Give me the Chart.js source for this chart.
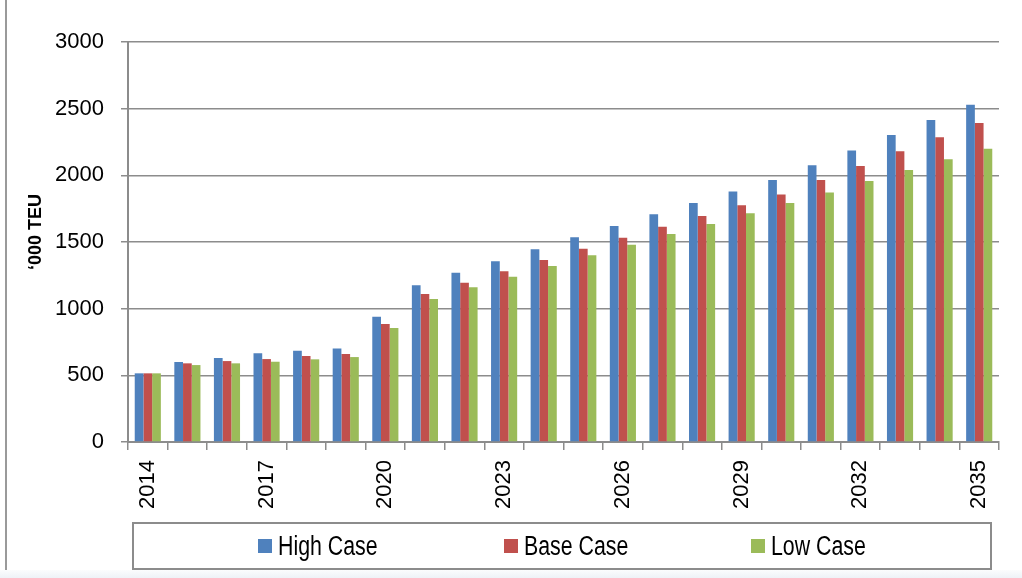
<!DOCTYPE html>
<html>
<head>
<meta charset="utf-8">
<script src="https://cdn.jsdelivr.net/npm/chart.js@4/dist/chart.umd.min.js"></script>
<style>
  html, body { margin: 0; padding: 0; background: #fff; }
  #wrap { position: relative; width: 1022px; height: 578px; overflow: hidden; background: #fff; }
  #edge { position: absolute; left: 5px; top: 0; width: 2px; height: 578px; background: #9a9a9a; }
  #foot { position: absolute; left: 0; top: 570px; width: 1022px; height: 8px;
          background: linear-gradient(to bottom, #fbfcfd, #eef2f7); }
  #legend { position: absolute; left: 132px; top: 522px; width: 856px; height: 44px;
            border: 2px solid #8c8c8c; box-sizing: content-box; }
  .item { position: absolute; top: 0; height: 44px; display: flex; align-items: center;
          font-family: "Liberation Sans", Arial, sans-serif;
          font-size: 27px; color: #000; white-space: nowrap; }
  .sw { display: inline-block; width: 14px; height: 14px; margin-right: 6px; }
  .txt { display: inline-block; transform: scaleX(0.79); transform-origin: left center; }
  canvas { position: absolute; left: 0; top: 0; }
</style>
</head>
<body>
<div id="wrap">
  <div id="edge"></div>
  <div id="foot"></div>
  <canvas id="chart" width="1022" height="578"></canvas>
  <div id="legend"></div>
</div>
<script>
'use strict';

const years = ['2014','2015','2016','2017','2018','2019','2020','2021','2022','2023','2024',
               '2025','2026','2027','2028','2029','2030','2031','2032','2033','2034','2035'];

const highCase = [515, 600, 630, 665, 685, 702, 940, 1175, 1270, 1355, 1445,
                  1535, 1620, 1708, 1792, 1878, 1965, 2075, 2187, 2302, 2415, 2530];
const baseCase = [515, 590, 607, 622, 645, 660, 885, 1110, 1195, 1280, 1365,
                  1450, 1532, 1615, 1695, 1775, 1857, 1965, 2070, 2180, 2285, 2392];
const lowCase  = [515, 577, 590, 602, 620, 637, 855, 1072, 1160, 1240, 1320,
                  1400, 1480, 1560, 1635, 1715, 1792, 1872, 1957, 2040, 2120, 2200];

const seriesNames  = ['High Case', 'Base Case', 'Low Case'];
const seriesColors = ['#4f81bd', '#c0504d', '#9bbb59'];
const yTicks = [0, 500, 1000, 1500, 2000, 2500, 3000];

const axisGray = '#8c8c8c';
const sans = '"Liberation Sans", Arial, sans-serif';

const Page = {
  init() {
    this.drawChart();
    this.drawLegend();
  },

  drawChart() {
    const ctx = document.getElementById('chart');
    const values = [highCase, baseCase, lowCase];
    new Chart(ctx, {
      type: 'bar',
      data: {
        labels: years,
        datasets: seriesNames.map((name, i) => ({
          label: name,
          data: values[i],
          backgroundColor: seriesColors[i],
          borderWidth: 0,
          categoryPercentage: 0.66,
          barPercentage: 1.0,
        })),
      },
      options: {
        responsive: false,
        animation: false,
        devicePixelRatio: 1,
        layout: { padding: { top: 42, right: 23, bottom: 56, left: 0 } },
        plugins: { legend: { display: false }, tooltip: { enabled: false } },
        scales: {
          x: {
            grid: { offset: true, drawOnChartArea: false, drawTicks: true, tickLength: 8, color: axisGray, lineWidth: 1.5 },
            border: { color: axisGray, width: 2 },
            ticks: {
              autoSkip: false, maxRotation: 90, minRotation: 90, padding: 10, color: '#000',
              font: { family: sans, size: 22 },
              callback: (v, i) => (i % 3 === 0 ? years[i] : ''),
            },
            afterFit: s => { s.height = 80; },
          },
          y: {
            min: 0, max: 3000,
            afterBuildTicks: s => { s.ticks = yTicks.map(v => ({ value: v })); },
            grid: { color: axisGray, lineWidth: 1.5, tickLength: 7 },
            border: { color: axisGray, width: 2 },
            ticks: { padding: 17, color: '#000', font: { family: sans, size: 22 }, callback: v => String(v) },
            title: {
              // leading spaces nudge the rotated title up a little, like the original
              display: true, text: '    \u2018000 TEU', color: '#000',
              font: { family: sans, size: 18, weight: 'bold' },
              padding: { top: 25, bottom: 0 },
            },
            afterFit: s => { s.width = 128; },
          },
        },
      },
    });
  },

  drawLegend() {
    const el = document.getElementById('legend');
    const lefts = [124, 370, 617];
    el.innerHTML = seriesNames.map((name, i) => `
      <div class="item" style="left:${lefts[i]}px">
        <span class="sw" style="background:${seriesColors[i]}"></span><span class="txt">${name}</span>
      </div>`).join('');
  },
};

document.addEventListener('DOMContentLoaded', () => Page.init());
</script>
</body>
</html>
